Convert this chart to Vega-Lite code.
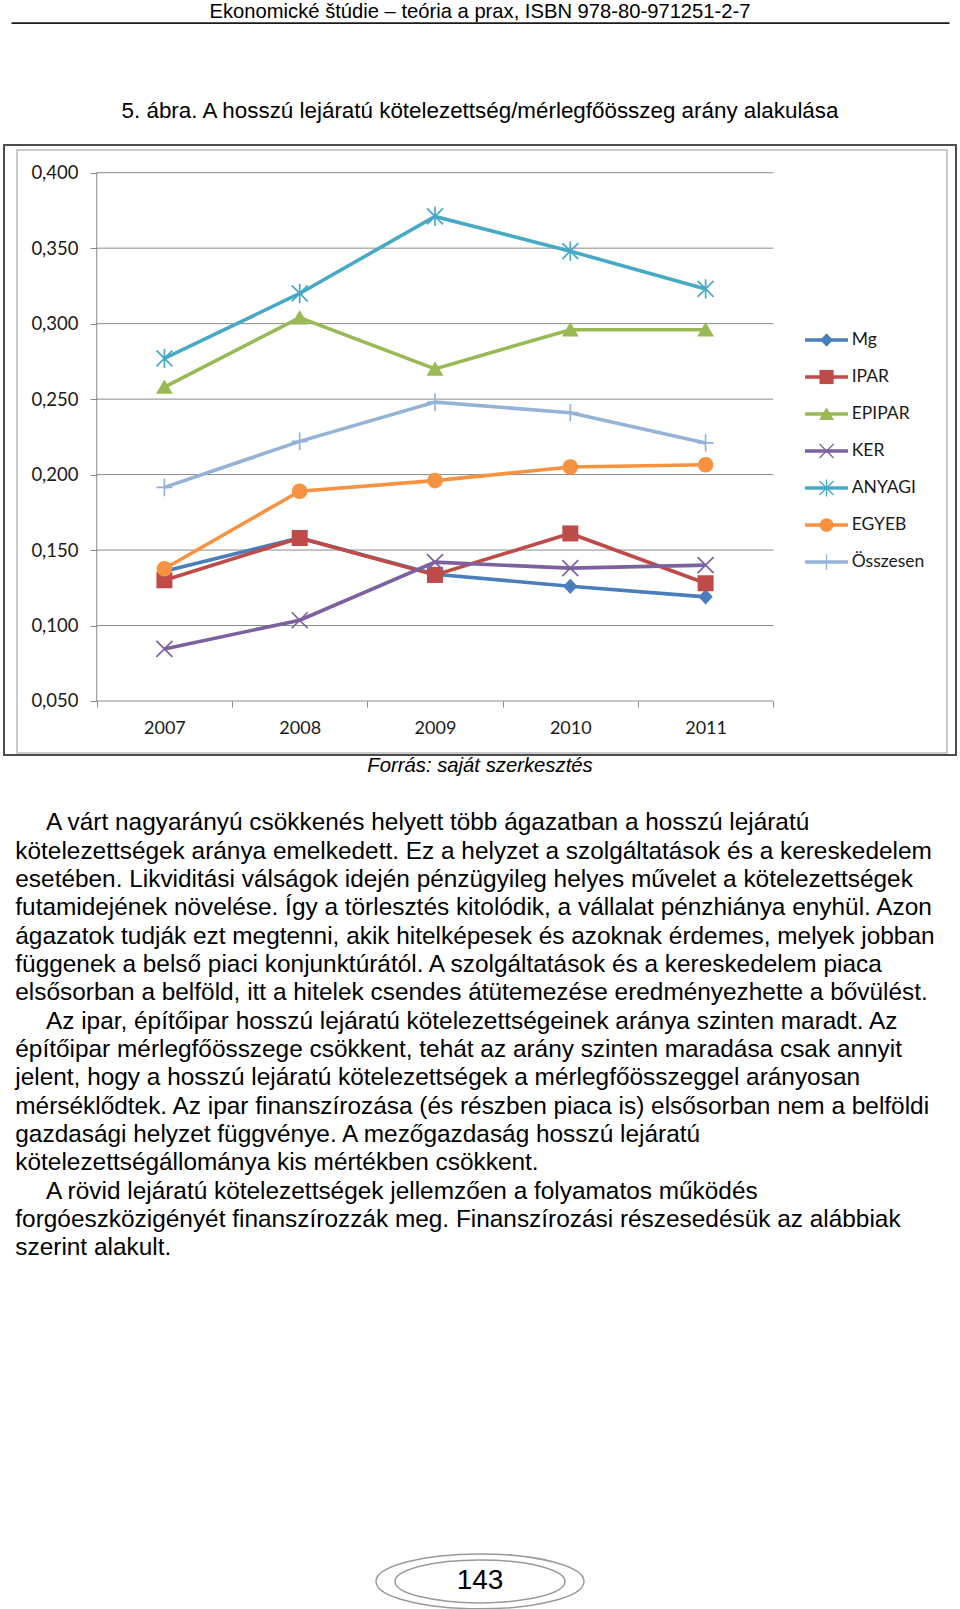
{
  "$schema": "https://vega.github.io/schema/vega-lite/v6.json",
  "description": "5. ábra: A hosszú lejáratú kötelezettség/mérlegfőösszeg arány alakulása, 2007-2011",
  "padding": 0,
  "background": "white",
  "config": {
    "view": {"stroke": null},
    "legend": {"disable": true},
    "text": {"font": "Liberation Sans", "color": "#000000"}
  },
  "datasets": {
    "series": [
      {"series": "Mg", "year": 2007, "value": 0.136},
      {"series": "Mg", "year": 2008, "value": 0.158},
      {"series": "Mg", "year": 2009, "value": 0.134},
      {"series": "Mg", "year": 2010, "value": 0.126},
      {"series": "Mg", "year": 2011, "value": 0.119},
      {"series": "IPAR", "year": 2007, "value": 0.130},
      {"series": "IPAR", "year": 2008, "value": 0.158},
      {"series": "IPAR", "year": 2009, "value": 0.1335},
      {"series": "IPAR", "year": 2010, "value": 0.161},
      {"series": "IPAR", "year": 2011, "value": 0.128},
      {"series": "EPIPAR", "year": 2007, "value": 0.258},
      {"series": "EPIPAR", "year": 2008, "value": 0.304},
      {"series": "EPIPAR", "year": 2009, "value": 0.270},
      {"series": "EPIPAR", "year": 2010, "value": 0.296},
      {"series": "EPIPAR", "year": 2011, "value": 0.296},
      {"series": "KER", "year": 2007, "value": 0.0845},
      {"series": "KER", "year": 2008, "value": 0.1035},
      {"series": "KER", "year": 2009, "value": 0.142},
      {"series": "KER", "year": 2010, "value": 0.138},
      {"series": "KER", "year": 2011, "value": 0.140},
      {"series": "ANYAGI", "year": 2007, "value": 0.277},
      {"series": "ANYAGI", "year": 2008, "value": 0.320},
      {"series": "ANYAGI", "year": 2009, "value": 0.371},
      {"series": "ANYAGI", "year": 2010, "value": 0.348},
      {"series": "ANYAGI", "year": 2011, "value": 0.323},
      {"series": "EGYEB", "year": 2007, "value": 0.1376},
      {"series": "EGYEB", "year": 2008, "value": 0.189},
      {"series": "EGYEB", "year": 2009, "value": 0.196},
      {"series": "EGYEB", "year": 2010, "value": 0.205},
      {"series": "EGYEB", "year": 2011, "value": 0.2065},
      {"series": "Összesen", "year": 2007, "value": 0.1915},
      {"series": "Összesen", "year": 2008, "value": 0.222},
      {"series": "Összesen", "year": 2009, "value": 0.248},
      {"series": "Összesen", "year": 2010, "value": 0.241},
      {"series": "Összesen", "year": 2011, "value": 0.221}
    ],
    "legend": [
      {"series": "Mg"}, {"series": "IPAR"}, {"series": "EPIPAR"}, {"series": "KER"},
      {"series": "ANYAGI"}, {"series": "EGYEB"}, {"series": "Összesen"}
    ],
    "grid": [
      {"tick": 0.05}, {"tick": 0.1}, {"tick": 0.15}, {"tick": 0.2},
      {"tick": 0.25}, {"tick": 0.3}, {"tick": 0.35}, {"tick": 0.4}
    ],
    "para": [
      {"line": 1, "indent": 1, "text": "A várt nagyarányú csökkenés helyett több ágazatban a hosszú lejáratú"},
      {"line": 2, "indent": 0, "text": "kötelezettségek aránya emelkedett. Ez a helyzet a szolgáltatások és a kereskedelem"},
      {"line": 3, "indent": 0, "text": "esetében. Likviditási válságok idején pénzügyileg helyes művelet a kötelezettségek"},
      {"line": 4, "indent": 0, "text": "futamidejének növelése. Így a törlesztés kitolódik, a vállalat pénzhiánya enyhül. Azon"},
      {"line": 5, "indent": 0, "text": "ágazatok tudják ezt megtenni, akik hitelképesek és azoknak érdemes, melyek jobban"},
      {"line": 6, "indent": 0, "text": "függenek a belső piaci konjunktúrától. A szolgáltatások és a kereskedelem piaca"},
      {"line": 7, "indent": 0, "text": "elsősorban a belföld, itt a hitelek csendes átütemezése eredményezhette a bővülést."},
      {"line": 8, "indent": 1, "text": "Az ipar, építőipar hosszú lejáratú kötelezettségeinek aránya szinten maradt. Az"},
      {"line": 9, "indent": 0, "text": "építőipar mérlegfőösszege csökkent, tehát az arány szinten maradása csak annyit"},
      {"line": 10, "indent": 0, "text": "jelent, hogy a hosszú lejáratú kötelezettségek a mérlegfőösszeggel arányosan"},
      {"line": 11, "indent": 0, "text": "mérséklődtek. Az ipar finanszírozása (és részben piaca is) elsősorban nem a belföldi"},
      {"line": 12, "indent": 0, "text": "gazdasági helyzet függvénye. A mezőgazdaság hosszú lejáratú"},
      {"line": 13, "indent": 0, "text": "kötelezettségállománya kis mértékben csökkent."},
      {"line": 14, "indent": 1, "text": "A rövid lejáratú kötelezettségek jellemzően a folyamatos működés"},
      {"line": 15, "indent": 0, "text": "forgóeszközigényét finanszírozzák meg. Finanszírozási részesedésük az alábbiak"},
      {"line": 16, "indent": 0, "text": "szerint alakult."}
    ]
  },
  "spacing": 0,
  "bounds": "flush",
  "center": true,
  "vconcat": [
    {
      "width": 938,
      "height": 22.6,
      "data": {"values": [{"label": "Ekonomické štúdie – teória a prax, ISBN 978-80-971251-2-7"}]},
      "mark": {"type": "text", "fontSize": 20.2},
      "encoding": {
        "text": {"field": "label"},
        "x": {
          "datum": 0.5,
          "type": "quantitative",
          "scale": {"domain": [0, 1]},
          "axis": {"title": null, "domain": true, "domainColor": "#1a1a1a", "domainWidth": 1.8, "ticks": false, "labels": false, "grid": false}
        },
        "y": {"field": "label", "type": "nominal", "scale": {"type": "point", "padding": 0, "align": 0.55}, "axis": null}
      }
    },
    {
      "width": 960,
      "height": 121.4,
      "data": {"values": [{"label": "5. ábra. A hosszú lejáratú kötelezettség/mérlegfőösszeg arány alakulása"}]},
      "mark": {"type": "text", "fontSize": 22.4},
      "encoding": {
        "text": {"field": "label"},
        "y": {"field": "label", "type": "nominal", "scale": {"type": "point", "padding": 0, "align": 0.727}, "axis": null}
      }
    },
    {
      "width": 952,
      "height": 610,
      "view": {"stroke": "#4d4d4d", "strokeWidth": 2},
      "resolve": {"scale": {"y": "independent"}},
      "layer": [
        {
          "layer": [
            {
              "data": {"values": [{}]},
              "mark": {"type": "rect", "filled": false, "stroke": "#b8b8b8", "strokeWidth": 1.5},
              "encoding": {
                "x": {"datum": 2005.911},
                "x2": {"datum": 2012.784},
                "y": {"datum": 0.41504},
                "y2": {"datum": 0.01555}
              }
            },
            {
              "data": {"name": "grid"},
              "mark": {"type": "rule", "color": "#8a8a8a", "strokeWidth": 1},
              "encoding": {
                "y": {"field": "tick", "type": "quantitative"},
                "x": {"datum": 2006.5},
                "x2": {"datum": 2011.5}
              }
            },
            {
              "data": {"values": [{}]},
              "mark": {"type": "rule", "color": "#8a8a8a", "strokeWidth": 1},
              "encoding": {
                "x": {"datum": 2006.5},
                "y": {"datum": 0.05},
                "y2": {"datum": 0.4}
              }
            },
            {
              "data": {"name": "series"},
              "mark": {"type": "line", "strokeWidth": 3.6},
              "encoding": {
                "x": {
                  "field": "year",
                  "type": "quantitative",
                  "scale": {"domain": [2005.8145, 2012.8507], "nice": false, "zero": false},
                  "axis": {
                    "title": null,
                    "orient": "bottom",
                    "offset": -54,
                    "values": [2006.5, 2007.5, 2008.5, 2009.5, 2010.5, 2011.5],
                    "domain": false,
                    "grid": false,
                    "ticks": true,
                    "tickSize": 6,
                    "tickColor": "#8a8a8a",
                    "labelOffset": 67.65,
                    "labelExpr": "datum.value < 2011 ? format(datum.value + 0.5, 'd') : ''",
                    "labelFont": "Lato",
                    "labelFontSize": 18,
                    "labelColor": "#1a1a1a",
                    "labelPadding": 21,
                    "labelBaseline": "middle",
                    "labelFlush": false,
                    "labelOverlap": false
                  }
                },
                "y": {
                  "field": "value",
                  "type": "quantitative",
                  "scale": {"domain": [0.01422, 0.41835], "nice": false, "zero": false},
                  "axis": {
                    "title": null,
                    "orient": "left",
                    "offset": -93,
                    "values": [0.05, 0.1, 0.15, 0.2, 0.25, 0.3, 0.35, 0.4],
                    "domain": false,
                    "grid": false,
                    "tickSize": 7,
                    "tickColor": "#8a8a8a",
                    "labelExpr": "replace(format(datum.value, '.3f'), '.', ',')",
                    "labelFont": "Lato",
                    "labelFontSize": 18.5,
                    "labelColor": "#1a1a1a",
                    "labelPadding": 12,
                    "labelFlush": false,
                    "labelOverlap": false
                  }
                },
                "color": {
                  "field": "series",
                  "type": "nominal",
                  "scale": {
                    "domain": ["Mg", "IPAR", "EPIPAR", "KER", "ANYAGI", "EGYEB", "Összesen"],
                    "range": ["#4A7EBB", "#BE4B48", "#98B954", "#7D60A0", "#46AAC5", "#F69240", "#95B3D7"]
                  }
                }
              }
            },
            {
              "data": {"name": "series"},
              "transform": [{"filter": {"field": "series", "oneOf": ["Mg", "IPAR", "EPIPAR", "EGYEB"]}}],
              "mark": {"type": "point", "filled": true, "opacity": 1, "size": 256},
              "encoding": {
                "x": {"field": "year", "type": "quantitative"},
                "y": {"field": "value", "type": "quantitative"},
                "color": {"field": "series", "type": "nominal"},
                "shape": {
                  "field": "series",
                  "type": "nominal",
                  "scale": {
                    "domain": ["Mg", "IPAR", "EPIPAR", "KER", "ANYAGI", "EGYEB", "Összesen"],
                    "range": [
                      "M0,-0.95L0.9,0L0,0.95L-0.9,0Z",
                      "M-1,-1L1,-1L1,1L-1,1Z",
                      "M0,-0.95L1.05,0.85L-1.05,0.85Z",
                      "M-1,-1L1,1M-1,1L1,-1",
                      "M-1,-1L1,1M-1,1L1,-1M0,-1.2L0,1.2",
                      "M-0.97,0A0.97,0.97,0,1,1,0.97,0A0.97,0.97,0,1,1,-0.97,0Z",
                      "M0,-1.1L0,1.1M-1,0L1,0"
                    ]
                  }
                }
              }
            },
            {
              "data": {"name": "series"},
              "transform": [{"filter": {"field": "series", "oneOf": ["KER", "ANYAGI", "Összesen"]}}],
              "mark": {"type": "point", "filled": false, "opacity": 1, "size": 256, "strokeWidth": 1.7},
              "encoding": {
                "x": {"field": "year", "type": "quantitative"},
                "y": {"field": "value", "type": "quantitative"},
                "color": {"field": "series", "type": "nominal"},
                "shape": {"field": "series", "type": "nominal"}
              }
            }
          ]
        },
        {
          "data": {"name": "legend"},
          "transform": [{"window": [{"op": "row_number", "as": "order"}]}],
          "layer": [
            {
              "mark": {"type": "rule", "strokeWidth": 3.6},
              "encoding": {
                "y": {
                  "field": "order",
                  "type": "quantitative",
                  "scale": {"domain": [-4.27, 12.216], "reverse": true, "nice": false, "zero": false},
                  "axis": null
                },
                "x": {"datum": 2011.735},
                "x2": {"datum": 2012.052},
                "color": {"field": "series", "type": "nominal"}
              }
            },
            {
              "transform": [{"filter": {"field": "series", "oneOf": ["Mg", "IPAR", "EPIPAR", "EGYEB"]}}],
              "mark": {"type": "point", "filled": true, "opacity": 1, "size": 200},
              "encoding": {
                "y": {"field": "order", "type": "quantitative", "axis": null},
                "x": {"datum": 2011.894},
                "color": {"field": "series", "type": "nominal"},
                "shape": {"field": "series", "type": "nominal"}
              }
            },
            {
              "transform": [{"filter": {"field": "series", "oneOf": ["KER", "ANYAGI", "Összesen"]}}],
              "mark": {"type": "point", "filled": false, "opacity": 1, "size": 200, "strokeWidth": 1.3},
              "encoding": {
                "y": {"field": "order", "type": "quantitative", "axis": null},
                "x": {"datum": 2011.894},
                "color": {"field": "series", "type": "nominal"},
                "shape": {"field": "series", "type": "nominal"}
              }
            },
            {
              "mark": {"type": "text", "align": "left", "baseline": "middle", "font": "Lato", "fontSize": 17.5, "color": "#1a1a1a"},
              "encoding": {
                "y": {"field": "order", "type": "quantitative", "axis": null},
                "x": {"datum": 2012.08},
                "text": {"field": "series"}
              }
            }
          ]
        }
      ]
    },
    {
      "width": 960,
      "height": 53.2,
      "data": {"values": [{"label": "Forrás: saját szerkesztés"}]},
      "mark": {"type": "text", "fontSize": 20.3, "fontStyle": "italic"},
      "encoding": {
        "text": {"field": "label"},
        "y": {"field": "label", "type": "nominal", "scale": {"type": "point", "padding": 0, "align": 0.2068}, "axis": null}
      }
    },
    {
      "width": 960,
      "height": 453.4,
      "data": {"name": "para"},
      "mark": {"type": "text", "align": "left", "baseline": "middle", "fontSize": 24.4},
      "encoding": {
        "y": {"field": "line", "type": "ordinal", "scale": {"type": "point", "padding": 0.5}, "axis": null},
        "x": {"field": "indent", "type": "quantitative", "scale": {"domain": [-0.5, 30.87], "nice": false, "zero": false}, "axis": null},
        "text": {"field": "text"}
      }
    },
    {
      "width": 960,
      "height": 345.4,
      "data": {"values": [{"page": "143"}]},
      "encoding": {
        "y": {"field": "page", "type": "nominal", "scale": {"type": "point", "padding": 0, "align": 0.9218}, "axis": null}
      },
      "layer": [
        {
          "mark": {"type": "point", "shape": "M-1,0A1,0.264,0,1,1,1,0A1,0.264,0,1,1,-1,0Z", "size": 43264, "filled": false, "stroke": "#9a9a9a", "strokeWidth": 1.5, "opacity": 1}
        },
        {
          "mark": {"type": "point", "shape": "M-1,0A1,0.253,0,1,1,1,0A1,0.253,0,1,1,-1,0Z", "size": 28900, "filled": false, "stroke": "#9a9a9a", "strokeWidth": 1.5, "opacity": 1}
        },
        {
          "mark": {"type": "text", "fontSize": 28},
          "encoding": {"text": {"field": "page"}}
        }
      ]
    }
  ]
}
